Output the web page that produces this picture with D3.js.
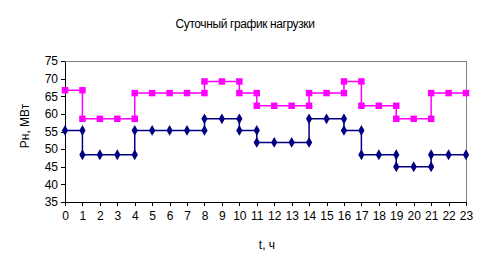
<!DOCTYPE html>
<html>
<head>
<meta charset="utf-8">
<script src="https://cdn.jsdelivr.net/npm/d3@7"></script>
<style>
  body { margin: 0; background: #fff; }
  text { font-family: Arial, "Liberation Sans", sans-serif; }
</style>
</head>
<body>
<div class="canvas"></div>
<script>
// hour ticks and load for each hour interval [h, h+1]
const hours = d3.range(0, 24);
const loadTop = [66.7, 58.6, 58.6, 58.6, 65.9, 65.9, 65.9, 65.9, 69.2, 69.2, 65.9, 62.3,
  62.3, 62.3, 65.9, 65.9, 69.2, 62.3, 62.3, 58.6, 58.6, 65.9, 65.9];
const loadBottom = [55.3, 48.4, 48.4, 48.4, 55.3, 55.3, 55.3, 55.3, 58.6, 58.6, 55.3, 51.9,
  51.9, 51.9, 58.6, 58.6, 55.3, 48.4, 48.4, 45.0, 45.0, 48.4, 48.4];
const yTicks = [35, 40, 45, 50, 55, 60, 65, 70, 75];

const width = 491;
const height = 272;
const margin = { top: 61, right: 25, bottom: 70, left: 65 };
const graphWidth = width - margin.left - margin.right;
const graphHeight = height - margin.top - margin.bottom;

const svg = d3
  .select(".canvas")
  .append("svg")
  .attr("width", width)
  .attr("height", height);

const graph = svg
  .append("g")
  .attr("transform", `translate(${margin.left}, ${margin.top})`);

// scales
const x = d3.scaleLinear().domain([0, 23]).range([0, graphWidth]);
const y = d3.scaleLinear().domain([35, 75]).range([graphHeight, 0]);

// step vertices: a point at every hour, and an extra one where the load jumps
const steps = (vals) => {
  const pts = [{ h: 0, v: vals[0] }];
  vals.forEach((v, i) => {
    if (i > 0 && vals[i - 1] !== v) pts.push({ h: i, v: v });
    pts.push({ h: i + 1, v: v });
  });
  return pts;
};

// frame (top and right in grey)
graph
  .append("path")
  .attr("d", `M0,0H${graphWidth}V${graphHeight}`)
  .attr("fill", "none")
  .attr("stroke", "#808080")
  .attr("stroke-width", 1)
  .attr("shape-rendering", "crispEdges");

// axes
const xAxis = d3.axisBottom(x).tickValues(hours).tickSize(4).tickSizeOuter(0).tickPadding(5);
const yAxis = d3.axisLeft(y).tickValues(yTicks).tickSize(4).tickSizeOuter(0).tickPadding(3);

const xAxisGroup = graph
  .append("g")
  .attr("transform", `translate(0, ${graphHeight})`)
  .call(xAxis);
const yAxisGroup = graph.append("g").call(yAxis);

[xAxisGroup, yAxisGroup].forEach((g) => {
  g.selectAll("path, line").attr("stroke", "#000").attr("shape-rendering", "crispEdges");
  g.selectAll("text").attr("font-size", 12).attr("fill", "#000")
    .attr("font-family", "Arial, 'Liberation Sans', sans-serif");
});

// lines
const line = d3.line().x((d) => x(d.h)).y((d) => y(d.v));

const series = [
  { vals: loadTop, color: "#FF00FF", marker: d3.symbolSquare, size: 42 },
  { vals: loadBottom, color: "#000080", marker: d3.symbolDiamond, size: 34 }
];

series.forEach((s) => {
  const pts = steps(s.vals);
  graph
    .append("path")
    .datum(pts)
    .attr("fill", "none")
    .attr("stroke", s.color)
    .attr("stroke-width", 1.5)
    .attr("d", line);

  graph
    .selectAll(null)
    .data(pts)
    .enter()
    .append("path")
    .attr("transform", (d) => `translate(${x(d.h)}, ${y(d.v)})`)
    .attr("d", d3.symbol().type(s.marker).size(s.size))
    .attr("fill", s.color);
});

// title and axis labels
svg
  .append("text")
  .attr("x", 245)
  .attr("y", 28)
  .attr("text-anchor", "middle")
  .attr("font-size", 12)
  .attr("letter-spacing", -0.4)
  .text("Суточный график нагрузки");

svg
  .append("text")
  .attr("x", 267)
  .attr("y", 249)
  .attr("text-anchor", "middle")
  .attr("font-size", 12)
  .text("t, ч");

svg
  .append("text")
  .attr("transform", "translate(29, 126) rotate(-90)")
  .attr("text-anchor", "middle")
  .attr("font-size", 12)
  .text("Рн, МВт");
</script>
</body>
</html>
